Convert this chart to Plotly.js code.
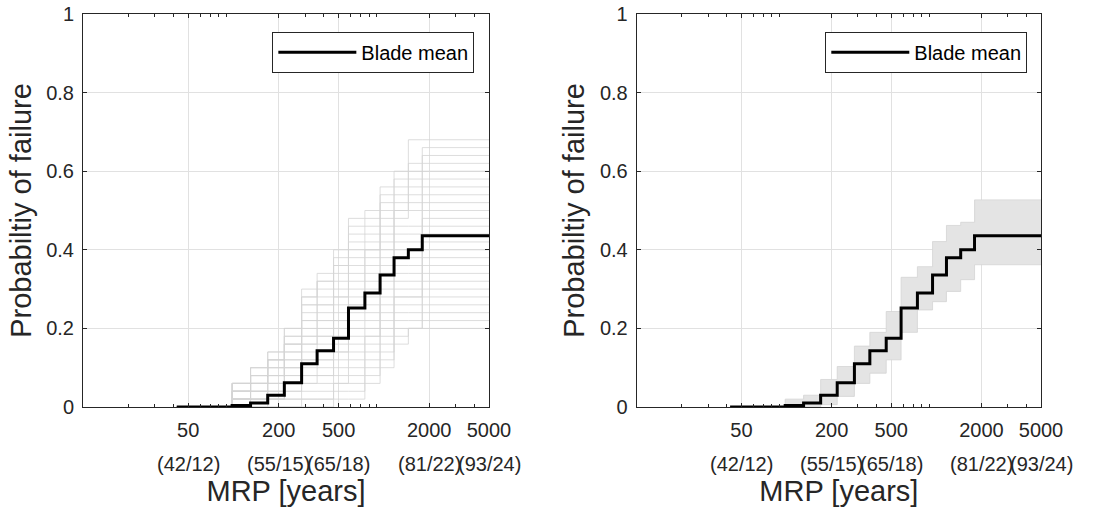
<!DOCTYPE html>
<html><head><meta charset="utf-8">
<script src="https://cdn.plot.ly/plotly-3.0.1.min.js"></script>
<style>html,body{margin:0;padding:0;background:#fff}</style>
</head><body><div id="chart" style="width:1098px;height:512px"></div>
<script>
// ---------------- data ----------------
const stepMRP = [42, 98, 130, 169, 218, 284, 360, 463, 582, 748, 944, 1169, 1455, 1800, 5000];
const bladeMean = [0, 0.004, 0.01, 0.03, 0.062, 0.11, 0.143, 0.175, 0.252, 0.29, 0.336, 0.38, 0.40, 0.436];

// left panel: individual realisations (light grey)
const leftCurves = [
  [0,0,0,0,0,0,0,.02,.02,.06,.10,.16,.20,.20],
  [0,0,0,0,0,.02,.02,.04,.04,.08,.12,.18,.20,.22],
  [0,0,0,.02,.02,.02,.02,.06,.06,.10,.14,.20,.20,.24],
  [0,0,.02,.02,.02,.04,.04,.06,.08,.12,.16,.22,.22,.26],
  [0,.02,.02,.02,.04,.06,.06,.08,.10,.14,.18,.24,.24,.28],
  [0,.02,.02,.02,.04,.06,.08,.10,.12,.16,.20,.26,.26,.30],
  [0,.02,.02,.04,.06,.08,.08,.12,.14,.18,.22,.28,.28,.32],
  [0,.02,.02,.04,.06,.08,.10,.14,.16,.18,.24,.28,.28,.34],
  [0,.02,.04,.04,.06,.10,.12,.14,.18,.20,.26,.30,.30,.36],
  [0,.02,.04,.06,.08,.12,.12,.16,.20,.22,.28,.32,.32,.38],
  [0,.02,.04,.06,.08,.12,.14,.18,.22,.24,.30,.34,.34,.40],
  [0,.02,.04,.06,.10,.14,.16,.20,.24,.26,.32,.36,.36,.42],
  [0,.04,.06,.08,.10,.16,.18,.22,.26,.28,.34,.38,.38,.44],
  [0,.04,.06,.08,.10,.16,.18,.22,.26,.30,.34,.40,.40,.46],
  [0,.04,.06,.08,.12,.18,.20,.24,.28,.32,.36,.42,.42,.48],
  [0,.04,.06,.08,.12,.18,.22,.26,.30,.34,.38,.44,.44,.50],
  [0,.04,.06,.10,.14,.20,.22,.28,.32,.36,.40,.46,.46,.52],
  [0,.04,.08,.10,.14,.22,.24,.28,.34,.38,.42,.48,.50,.54],
  [0,.04,.08,.10,.16,.22,.26,.30,.36,.40,.44,.50,.52,.56],
  [0,.04,.08,.12,.16,.24,.26,.32,.38,.40,.46,.50,.54,.58],
  [0,.06,.08,.12,.16,.26,.28,.34,.40,.42,.48,.52,.56,.60],
  [0,.06,.08,.12,.18,.26,.30,.36,.42,.44,.50,.54,.58,.62],
  [0,.06,.10,.12,.18,.28,.32,.36,.44,.46,.52,.56,.60,.64],
  [0,.06,.10,.14,.20,.28,.32,.38,.46,.48,.54,.58,.62,.66],
  [0,.06,.10,.14,.20,.30,.34,.40,.48,.50,.56,.60,.68,.68]
];

// right panel: envelope of the dense realisation band
const rightLow  = [0, 0, 0, 0.006, 0.027, 0.06, 0.086, 0.12, 0.19, 0.247, 0.268, 0.294, 0.324, 0.362];
const rightHigh = [0, 0.02, 0.03, 0.07, 0.103, 0.155, 0.19, 0.243, 0.33, 0.357, 0.421, 0.462, 0.47, 0.527];

const tickMRP  = [50, 200, 500, 2000, 5000];
const tickWind = ['(42/12)', '(55/15)', '(65/18)', '(81/22)', '(93/24)'];
const minorMRP = [20, 30, 40, 60, 70, 80, 90, 300, 400, 600, 700, 800, 900, 3000, 4000];
const yTicks    = [0, 0.2, 0.4, 0.6, 0.8, 1];
const yTickText = ['0', '0.2', '0.4', '0.6', '0.8', '1'];

// ---------------- styling ----------------
const FONT = 'Liberation Sans, Arial, Helvetica, sans-serif';
const INK = '#262626';
const GRID = '#e1e1e1';
const GREY = '#d4d4d4';

function stairY(v) { return v.concat([v[v.length - 1]]); }

const traces = [];
leftCurves.forEach(c => traces.push({
  x: stepMRP, y: stairY(c), xaxis: 'x', yaxis: 'y', mode: 'lines',
  line: {shape: 'hv', color: GREY, width: 0.8}, showlegend: false, hoverinfo: 'skip'
}));
traces.push({x: stepMRP, y: stairY(bladeMean), xaxis: 'x', yaxis: 'y', mode: 'lines',
  name: 'Blade mean', line: {shape: 'hv', color: '#000', width: 3}, legend: 'legend'});

traces.push({x: stepMRP, y: stairY(rightLow), xaxis: 'x2', yaxis: 'y2', mode: 'lines',
  line: {shape: 'hv', color: GREY, width: 0.8}, showlegend: false, hoverinfo: 'skip'});
traces.push({x: stepMRP, y: stairY(rightHigh), xaxis: 'x2', yaxis: 'y2', mode: 'lines',
  fill: 'tonexty', fillcolor: '#e4e4e4',
  line: {shape: 'hv', color: GREY, width: 0.8}, showlegend: false, hoverinfo: 'skip'});
traces.push({x: stepMRP, y: stairY(bladeMean), xaxis: 'x2', yaxis: 'y2', mode: 'lines',
  name: 'Blade mean', line: {shape: 'hv', color: '#000', width: 3}, legend: 'legend2'});

function xAxis(domain, anchor) {
  return {
    type: 'log', range: [1, Math.log10(5000)], domain: domain, anchor: anchor,
    tickmode: 'array', tickvals: tickMRP, ticktext: tickMRP.map(String),
    ticks: 'inside', ticklen: 4, tickcolor: INK, tickwidth: 1,
    showline: true, linecolor: INK, linewidth: 1, mirror: 'allticks',
    showgrid: true, gridcolor: GRID, gridwidth: 1, zeroline: false,
    minor: {tickmode: 'array', tickvals: minorMRP, ticks: 'inside', ticklen: 3, tickcolor: INK, tickwidth: 1, showgrid: false},
    tickfont: {family: FONT, size: 20, color: INK}, ticklabelstandoff: 5,
    title: {text: 'MRP [years]', font: {family: FONT, size: 29, color: INK}, standoff: 40},
    automargin: false, fixedrange: true
  };
}
function yAxis(anchor) {
  return {
    range: [0, 1], domain: [0, 1], anchor: anchor,
    tickmode: 'array', tickvals: yTicks, ticktext: yTickText,
    ticks: 'inside', ticklen: 4, tickcolor: INK, tickwidth: 1,
    showline: true, linecolor: INK, linewidth: 1, mirror: 'allticks',
    showgrid: true, gridcolor: GRID, gridwidth: 1, zeroline: false,
    tickfont: {family: FONT, size: 20, color: INK}, ticklabelstandoff: 4,
    title: {text: 'Probabiltiy of failure', font: {family: FONT, size: 29, color: INK}, standoff: 6},
    automargin: false, fixedrange: true
  };
}

const annotations = [];
['x', 'x2'].forEach(ax => {
  tickMRP.forEach((v, i) => annotations.push({
    x: Math.log10(v), xref: ax, y: -0.146, yref: 'paper', text: tickWind[i],
    showarrow: false, xanchor: 'center', yanchor: 'middle',
    font: {family: FONT, size: 20, color: INK}
  }));
});

const legendBase = {
  xref: 'paper', yref: 'paper', xanchor: 'right', yanchor: 'top', y: 0.955,
  bgcolor: '#ffffff', bordercolor: INK, borderwidth: 1,
  font: {family: FONT, size: 20, color: '#000'}, itemwidth: 78, entrywidth: 115
};

const layout = {
  width: 1098, height: 512,
  margin: {l: 83, r: 57, t: 14, b: 105, pad: 0},
  paper_bgcolor: '#fff', plot_bgcolor: '#fff',
  font: {family: FONT, color: INK},
  xaxis: xAxis([0, 0.4238], 'y'),
  yaxis: yAxis('x'),
  xaxis2: xAxis([0.578, 1], 'y2'),
  yaxis2: yAxis('x2'),
  legend: Object.assign({}, legendBase, {x: 0.4085}),
  legend2: Object.assign({}, legendBase, {x: 0.9857}),
  annotations: annotations,
  showlegend: true
};

Plotly.newPlot('chart', traces, layout, {displayModeBar: false, staticPlot: true});
</script></body></html>
